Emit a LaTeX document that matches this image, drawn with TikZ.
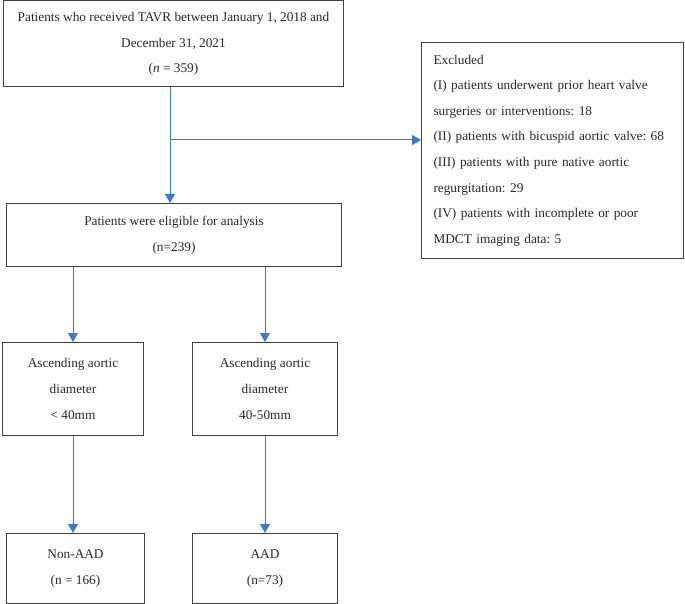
\documentclass[tikz,border=0pt]{standalone}
\usepackage{fontspec}
\setmainfont{Liberation Serif}
\usetikzlibrary{arrows.meta}
\frenchspacing

\definecolor{flowblue}{RGB}{58,120,210}
\definecolor{boxgray}{RGB}{64,64,64}
\definecolor{textgray}{RGB}{40,40,40}

\tikzset{
	box/.style={draw=boxgray, line width=1pt, anchor=north west, align=center,
		inner sep=0pt, text=textgray, font=\fontsize{13.3pt}{25.6pt}\selectfont},
	flow/.style={draw=flowblue, line width=1pt,
		-{Triangle[width=10pt,length=9pt]}}
}

\begin{document}
\begin{tikzpicture}[x=1pt,y=-1pt]

	\useasboundingbox (0,0) rectangle (685,604);

	\node[box, minimum width=340pt, minimum height=86pt] (tavr) at (3,0.5)
		{Patients who received TAVR between January 1, 2018 and\\
		December 31, 2021\\ (\textit{n} = 359)};
	\node[box, minimum width=335pt, minimum height=63pt] (elig) at (6,203)
		{Patients were eligible for analysis\\ (n=239)};
	\node[box, align=left, inner xsep=12pt, text width=238pt,
		minimum height=216pt] (excl) at (421,42)
		{Excluded\\
		(I) patients underwent prior heart valve\\
		surgeries or interventions: 18\\
		(II) patients with bicuspid aortic valve: 68\\
		(III) patients with pure native aortic\\
		regurgitation: 29\\
		(IV) patients with incomplete or poor\\
		MDCT imaging data: 5};

	\node[box, minimum width=141pt, minimum height=93pt] (small) at (2,342)
		{Ascending aortic\\ diameter\\ < 40mm};
	\node[box, minimum width=145pt, minimum height=93pt] (large) at (192,342)
		{Ascending aortic\\ diameter\\ 40-50mm};

	\node[box, minimum width=138pt, minimum height=70pt] (nonaad) at (6,533)
		{Non-AAD\\ (n = 166)};
	\node[box, minimum width=145pt, minimum height=70pt] (aad) at (192,533)
		{AAD\\ (n=73)};

	% arrows
	\coordinate (split) at (170,140);
	\draw[flow] (tavr.south -| split) -- (elig.north -| split);
	\draw[flow] (split) -- (split -| excl.west);
	\draw[flow] (small.north |- elig.south) -- (small.north);
	\draw[flow] (large.north |- elig.south) -- (large.north);
	\draw[flow] (small.south) -- (small.south |- nonaad.north);
	\draw[flow] (large.south) -- (large.south |- aad.north);

\end{tikzpicture}
\end{document}
